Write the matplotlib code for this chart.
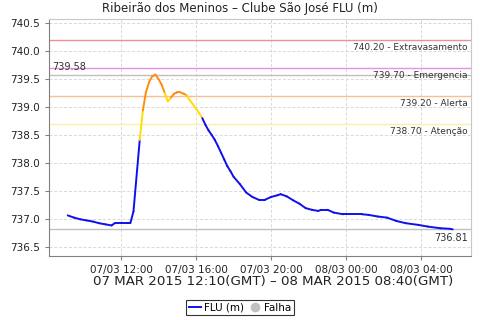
import matplotlib
matplotlib.use('Agg')
import matplotlib.pyplot as plt
from matplotlib.lines import Line2D
import pandas as pd

#%% Data (local time)

times = ['2015-03-07 09:10', '2015-03-07 09:30', '2015-03-07 09:50', '2015-03-07 10:10',
         '2015-03-07 10:30', '2015-03-07 10:50', '2015-03-07 11:10', '2015-03-07 11:30',
         '2015-03-07 11:40', '2015-03-07 12:00', '2015-03-07 12:20', '2015-03-07 12:30',
         '2015-03-07 12:40', '2015-03-07 13:00', '2015-03-07 13:10', '2015-03-07 13:20',
         '2015-03-07 13:30', '2015-03-07 13:40', '2015-03-07 13:50', '2015-03-07 14:00',
         '2015-03-07 14:10', '2015-03-07 14:20', '2015-03-07 14:30', '2015-03-07 14:40',
         '2015-03-07 14:50', '2015-03-07 15:00', '2015-03-07 15:10', '2015-03-07 15:20',
         '2015-03-07 15:30', '2015-03-07 15:40', '2015-03-07 15:50', '2015-03-07 16:00',
         '2015-03-07 16:10', '2015-03-07 16:20', '2015-03-07 16:30', '2015-03-07 16:40',
         '2015-03-07 16:50', '2015-03-07 17:00', '2015-03-07 17:10', '2015-03-07 17:20',
         '2015-03-07 17:30', '2015-03-07 17:40', '2015-03-07 17:50', '2015-03-07 18:00',
         '2015-03-07 18:20', '2015-03-07 18:40', '2015-03-07 19:00', '2015-03-07 19:20',
         '2015-03-07 19:40', '2015-03-07 20:00', '2015-03-07 20:20', '2015-03-07 20:30',
         '2015-03-07 20:50', '2015-03-07 21:10', '2015-03-07 21:30', '2015-03-07 21:50',
         '2015-03-07 22:10', '2015-03-07 22:30', '2015-03-07 22:40', '2015-03-07 23:00',
         '2015-03-07 23:20', '2015-03-07 23:50', '2015-03-08 00:00', '2015-03-08 00:50',
         '2015-03-08 01:10', '2015-03-08 01:40', '2015-03-08 02:10', '2015-03-08 02:40',
         '2015-03-08 03:10', '2015-03-08 03:50', '2015-03-08 04:20', '2015-03-08 05:00',
         '2015-03-08 05:30', '2015-03-08 05:40']

flu = [737.06, 737.02, 736.99, 736.97,
       736.95, 736.92, 736.90, 736.88,
       736.92, 736.92, 736.92, 736.92,
       737.13, 738.41, 738.94, 739.27,
       739.45, 739.55, 739.58, 739.50,
       739.40, 739.25, 739.10, 739.17,
       739.24, 739.26, 739.26, 739.24,
       739.21, 739.12, 739.05, 738.97,
       738.89, 738.80, 738.68, 738.58,
       738.50, 738.41, 738.30, 738.18,
       738.06, 737.94, 737.85, 737.75,
       737.62, 737.47, 737.39, 737.34,
       737.34, 737.39, 737.42, 737.44,
       737.40, 737.33, 737.27, 737.19,
       737.16, 737.14, 737.16, 737.16,
       737.11, 737.08, 737.08, 737.08,
       737.07, 737.04, 737.02, 736.96,
       736.92, 736.89, 736.86, 736.83,
       736.82, 736.81]

levels = [740.20, 739.70, 739.20, 738.70]
level_names = ['Extravasamento', 'Emergencia', 'Alerta', 'Atenção']
level_colors = ['#f09090', '#e890e8', '#f8c090', '#f8f0a8']

tick_times = ['2015-03-07 12:00', '2015-03-07 16:00', '2015-03-07 20:00',
              '2015-03-08 00:00', '2015-03-08 04:00']
tick_labels = ['07/03 12:00', '07/03 16:00', '07/03 20:00', '08/03 00:00', '08/03 04:00']

#%% Plot

t = pd.to_datetime(times)
ticks = pd.to_datetime(tick_times)

fig = plt.figure(figsize=(4.8, 3.2), dpi=100)
ax = fig.add_axes([0.102, 0.2, 0.879, 0.74])

ax.grid(True, linestyle=(0, (3, 2)), color='#d8d8d8', linewidth=0.7)
ax.set_axisbelow(True)

# threshold lines and labels
for val, name, col in zip(levels, level_names, level_colors):
    ax.axhline(val, color=col, linewidth=1.0, zorder=2)
    ax.annotate('%.2f - %s' % (val, name), xy=(1, val), xycoords=('axes fraction', 'data'),
                xytext=(-3, -8), textcoords='offset pixels', ha='right', va='center',
                fontsize=6.5, color='#333333')

vmax = max(flu)
vmin = min(flu)
ax.axhline(vmax, color='#c0c0c0', linewidth=1.0, zorder=2)
ax.axhline(vmin, color='#c0c0c0', linewidth=1.0, zorder=2)
ax.annotate('%.2f' % vmax, xy=(0, vmax), xycoords=('axes fraction', 'data'),
            xytext=(3, 8), textcoords='offset pixels', ha='left', va='center',
            fontsize=7, color='#333333')
ax.annotate('%.2f' % vmin, xy=(1, vmin), xycoords=('axes fraction', 'data'),
            xytext=(-3, -9), textcoords='offset pixels', ha='right', va='center',
            fontsize=7, color='#333333')

# series coloured by level of each segment's end point
for i in range(1, len(flu)):
    v = flu[i]
    if v >= levels[2]:
        c = '#ff8c10'
    elif v >= levels[3]:
        c = '#ffdd00'
    else:
        c = '#1010ee'
    ax.plot(t[i-1:i+1], flu[i-1:i+1], '-', color=c, linewidth=1.4, zorder=3,
            solid_capstyle='round')

ax.set_xlim(pd.Timestamp('2015-03-07 08:10'), pd.Timestamp('2015-03-08 06:38'))
ax.set_ylim(736.333, 740.572)
ax.set_xticks(ticks)
ax.set_xticklabels(tick_labels)
ax.set_yticks([736.5, 737.0, 737.5, 738.0, 738.5, 739.0, 739.5, 740.0, 740.5])
ax.yaxis.set_major_formatter(matplotlib.ticker.FormatStrFormatter('%.1f'))
ax.tick_params(labelsize=7.5, length=3, color='#808080', colors='#222222')

for s in ['left', 'bottom']:
    ax.spines[s].set_color('#808080')
for s in ['top', 'right']:
    ax.spines[s].set_color('#c8c8c8')

fig.text(0.5, 0.973, 'Ribeirão dos Meninos – Clube São José FLU (m)', ha='center', va='center',
         fontsize=8.5, color='#222222')
fig.text(0.57, 0.119, '07 MAR 2015 12:10(GMT) – 08 MAR 2015 08:40(GMT)', ha='center', va='center',
         fontsize=9.6, color='#222222')

handles = [Line2D([0], [0], color='#1010ee', linewidth=1.4),
           Line2D([0], [0], color='#c0c0c0', marker='o', linestyle='none', markersize=6)]
leg = fig.legend(handles=handles, labels=['FLU (m)', 'Falha'], loc='center',
                 bbox_to_anchor=(0.5, 0.038), ncol=2, fancybox=False, edgecolor='black',
                 fontsize=7.5, handlelength=1.2, handletextpad=0.3, columnspacing=0.4,
                 borderpad=0.25, borderaxespad=0)
leg.get_frame().set_linewidth(0.8)

plt.savefig('out.png', dpi=100)
